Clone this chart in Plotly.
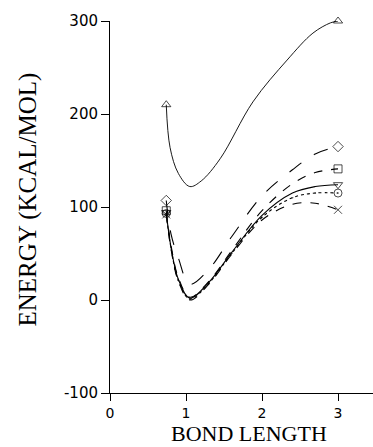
import plotly.graph_objects as go

# ---- data ----
x_upper = [0.74, 0.79, 0.90, 1.05, 1.20, 1.45, 1.88, 2.33, 2.67, 2.90, 3.00]
y_triangle = [210, 164, 136, 122, 128, 152, 213, 258, 287, 298, 300]

x_lower = [0.74, 0.80, 0.90, 1.05, 1.30, 1.60, 2.00, 2.40, 2.70, 3.00]
y_diamond = [107, 72, 45, 17, 33, 68, 112, 140, 157, 165]
y_square = [96, 60, 24, 3, 20, 53, 96, 125, 137, 141]
y_tridown = [94, 58, 22, 2, 19, 51, 91, 115, 122, 124]
y_circle = [93, 57, 21, 1, 18, 50, 89, 110, 115, 115]
y_cross = [92, 56, 20, 0, 17, 49, 86, 103, 104, 97]

y_tickvals = [-100, 0, 100, 200, 300]
y_ticktext = ["-100", "0", "100", "200", "300"]
x_tickvals = [0, 1, 2, 3]
x_ticktext = ["0", "1", "2", "3"]

x_title = "BOND LENGTH"
y_title = "ENERGY (KCAL/MOL)"

series = [
    (x_upper, y_triangle, "triangle-up-open", "solid", 0.9),
    (x_lower, y_diamond, "diamond-open", "longdash", 1.1),
    (x_lower, y_square, "square-open", "dash", 1.1),
    (x_lower, y_tridown, "triangle-down-open", "solid", 1.1),
    (x_lower, y_circle, "circle-open-dot", "dot", 1.1),
    (x_lower, y_cross, "x-thin-open", "dash", 1.1),
]

fig = go.Figure()
for xs, ys, sym, dash, w in series:
    sizes = [8] + [0] * (len(xs) - 2) + [8]
    fig.add_trace(go.Scatter(
        x=xs, y=ys, mode="lines+markers",
        line=dict(color="black", width=w, dash=dash, shape="spline", smoothing=1.0),
        marker=dict(symbol=sym, size=sizes, color="black",
                    line=dict(color="black", width=1)),
        cliponaxis=False, showlegend=False, hoverinfo="skip",
    ))

serif = "Liberation Serif, Times New Roman, serif"
sans = "DejaVu Sans, sans-serif"

fig.update_layout(
    width=373, height=447,
    margin=dict(l=110, r=0, t=21, b=54),
    paper_bgcolor="white", plot_bgcolor="white",
    font=dict(family=sans, color="black", size=15),
    annotations=[
        dict(text=x_title, xref="paper", yref="paper", x=0.528, y=-0.1102,
             xanchor="center", yanchor="middle", showarrow=False, borderpad=0,
             font=dict(family=serif, size=22, color="black")),
        dict(text=y_title, xref="paper", yref="paper", x=-0.3118, y=0.52,
             xanchor="center", yanchor="middle", showarrow=False, textangle=-90,
             font=dict(family=serif, size=25, color="black")),
    ],
)
fig.update_xaxes(
    range=[0, 3.46], tickvals=x_tickvals, ticktext=x_ticktext,
    showgrid=False, zeroline=False, showline=True, linecolor="black", linewidth=1,
    ticks="outside", ticklen=7, tickcolor="black",
    tickfont=dict(family=sans, size=14),
)
fig.update_yaxes(
    range=[-100, 300], tickvals=y_tickvals, ticktext=y_ticktext,
    showgrid=False, zeroline=False, showline=True, linecolor="black", linewidth=1,
    ticks="outside", ticklen=8, tickcolor="black",
    tickfont=dict(family=sans, size=15),
)

fig.write_html("out.html", config={"displayModeBar": False},
               post_script="document.body.style.margin='0';document.body.style.overflow='hidden';")
